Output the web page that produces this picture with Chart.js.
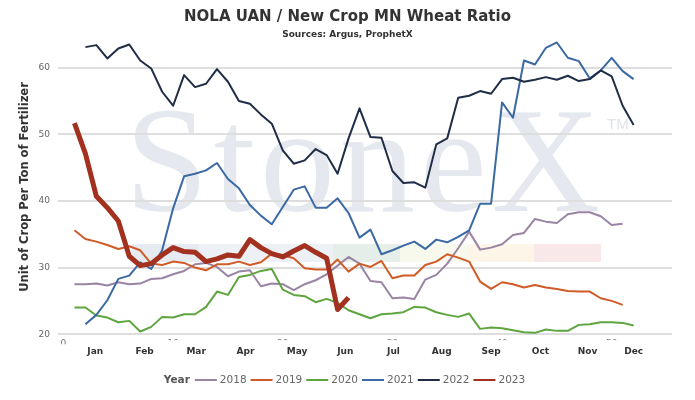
<!DOCTYPE html>
<html>
<head>
<meta charset="utf-8">
<title>NOLA UAN / New Crop MN Wheat Ratio</title>
<script src="https://cdn.jsdelivr.net/npm/chart.js@4.4.1/dist/chart.umd.min.js"></script>
<style>
  html, body { margin: 0; padding: 0; background: #fff; }
  #wrap { width: 695px; height: 400px; }
</style>
</head>
<body>
<div id="wrap"><canvas id="ratioChart"></canvas></div>
<script>
/*
   NOLA UAN / New Crop MN Wheat Ratio - weekly ratio by year
*/

const years = ['2018', '2019', '2020', '2021', '2022', '2023'];
const firstWeek = [1, 1, 1, 2, 2, 1];

const monthNames = ['Jan', 'Feb', 'Mar', 'Apr', 'May', 'Jun', 'Jul', 'Aug', 'Sep', 'Oct', 'Nov', 'Dec'];
const monthWeeks = [2.9, 7.4, 12.1, 16.6, 21.3, 25.7, 30.1, 34.5, 39.0, 43.5, 47.8, 52.0];
const weekTicks = [0, 10, 20, 30, 40, 50];
const ratioTicks = [20, 30, 40, 50, 60];

const ratio2018 = [27.5, 27.5, 27.6, 27.3, 27.8, 27.5, 27.6, 28.3, 28.4, 29.0, 29.5, 30.5, 30.7, 30.1,
    28.7, 29.4, 29.6, 27.2, 27.6, 27.5, 26.6, 27.5, 28.1, 29.0, 30.3, 31.6, 30.6, 28.0,
    27.8, 25.4, 25.5, 25.3, 28.2, 28.9, 30.6, 32.9, 35.4, 32.7, 33.0, 33.5, 34.9, 35.2,
    37.3, 36.9, 36.7, 38.0, 38.3, 38.3, 37.7, 36.4, 36.6];
const ratio2019 = [35.6, 34.3, 33.9, 33.4, 32.8, 33.2, 32.6, 30.6, 30.4, 30.9, 30.7, 30.0, 29.6, 30.5,
    30.5, 30.9, 30.4, 30.8, 32.1, 31.9, 31.4, 29.9, 29.7, 29.7, 31.2, 29.4, 30.6, 30.1,
    31.0, 28.4, 28.8, 28.8, 30.4, 30.9, 32.0, 31.5, 30.9, 27.9, 26.8, 27.8, 27.5, 27.0,
    27.4, 27.0, 26.8, 26.5, 26.4, 26.4, 25.4, 25.0, 24.4];
const ratio2020 = [24.0, 24.0, 22.8, 22.5, 21.8, 22.0, 20.4, 21.1, 22.6, 22.5, 23.0, 23.0, 24.1, 26.4,
    25.9, 28.6, 28.9, 29.5, 29.8, 26.7, 25.9, 25.7, 24.8, 25.3, 24.7, 23.6, 23.0, 22.4,
    23.0, 23.1, 23.3, 24.1, 24.0, 23.3, 22.9, 22.6, 23.1, 20.8, 21.0, 20.9, 20.6, 20.3,
    20.2, 20.7, 20.5, 20.5, 21.4, 21.5, 21.8, 21.8, 21.7, 21.3];
const ratio2021 = [21.5, 22.9, 25.1, 28.3, 28.8, 30.8, 29.8, 32.6, 38.9, 43.7, 44.1, 44.6, 45.7,
    43.3, 41.9, 39.4, 37.8, 36.5, 39.1, 41.7, 42.2, 39.0, 39.0, 40.4, 38.2, 34.5, 35.7,
    32.0, 32.6, 33.3, 33.9, 32.8, 34.2, 33.8, 34.6, 35.6, 39.6, 39.6, 54.8, 52.5, 61.1,
    60.5, 63.0, 63.8, 61.5, 61.0, 58.4, 59.6, 61.5, 59.5, 58.3];
const ratio2022 = [63.1, 63.4, 61.4, 62.9, 63.5, 61.1, 59.9, 56.4, 54.3, 58.9, 57.1, 57.6, 59.8,
    57.9, 55.0, 54.6, 53.0, 51.6, 47.6, 45.6, 46.1, 47.8, 46.9, 44.1, 49.4, 53.9, 49.6,
    49.5, 44.5, 42.7, 42.8, 42.0, 48.5, 49.4, 55.5, 55.8, 56.5, 56.1, 58.3, 58.5, 57.9,
    58.2, 58.6, 58.2, 58.8, 58.0, 58.3, 59.6, 58.7, 54.3, 51.4];
const ratio2023 = [51.7, 47.1, 40.7, 39.0, 37.0, 31.7, 30.3, 30.6, 31.9, 33.0, 32.4, 32.3, 30.9, 31.3,
    31.9, 31.7, 34.2, 33.0, 32.1, 31.6, 32.5, 33.3, 32.3, 31.4, 23.7, 25.5];

const seriesValues = [ratio2018, ratio2019, ratio2020, ratio2021, ratio2022, ratio2023];

const ChartStyle = {
    font: "'DejaVu Sans', sans-serif",
    colors: ['#9a84a4', '#d15b26', '#5fa53f', '#3b69a3', '#1f2d47', '#a2321f'],
    widths: [2, 2, 2, 2, 2, 5],
    grid: '#dedede',
    text: '#333',
    muted: '#666',
    band: ['#e6eaf1', '#edf1f6', '#edf1f6', '#e5eee8', '#f6f9ec', '#fdf5e7', '#f9e8ea']
};

// StoneX watermark behind the plot
const watermark = {
    id: 'watermark',
    beforeDraw(chart) {
        const ctx = chart.ctx;
        ctx.save();
        ctx.fillStyle = '#e5e9ef';
        ctx.font = "150px 'Liberation Serif'";
        ctx.letterSpacing = '5px';
        ctx.textBaseline = 'alphabetic';
        ctx.fillText('StoneX', 125, 211);
        ctx.letterSpacing = '0px';
        ctx.fillStyle = '#dfe3ea';
        ctx.font = "15px 'Liberation Sans'";
        ctx.fillText('TM', 607, 129);
        ChartStyle.band.forEach((c, i) => {
            ctx.fillStyle = c;
            ctx.fillRect(132 + i * 67, 244, 67, 18);
        });
        ctx.restore();
    },
    beforeDatasetsDraw(chart) {
        // week numbers sit mostly hidden under the month row
        const { ctx, chartArea } = chart;
        ctx.save();
        ctx.fillStyle = '#fff';
        ctx.fillRect(chartArea.left + 10, chartArea.bottom + 6, chartArea.right - chartArea.left, 10);
        ctx.restore();
    }
};

// "Year —— 2018 —— 2019 ..." legend on one line
const yearLegend = {
    id: 'yearLegend',
    afterDraw(chart) {
        const ctx = chart.ctx;
        const sets = chart.data.datasets;
        const y = 380;
        ctx.save();
        ctx.textBaseline = 'middle';
        ctx.font = "bold 10.5px " + ChartStyle.font;
        const headW = ctx.measureText('Year').width;
        ctx.font = "10.5px " + ChartStyle.font;
        const itemW = sets.map(ds => 25 + ctx.measureText(ds.label).width);
        const total = headW + 5 + itemW.reduce((a, b) => a + b, 0) + 4 * (itemW.length - 1);
        let x = chart.width / 2 - total / 2 - 3;

        ctx.font = "bold 10.5px " + ChartStyle.font;
        ctx.fillStyle = '#555';
        ctx.fillText('Year', x, y);
        x += headW + 5;

        ctx.font = "10.5px " + ChartStyle.font;
        sets.forEach((ds, i) => {
            ctx.fillStyle = ds.borderColor;
            ctx.fillRect(x, y - 1, 22, 2);
            ctx.fillStyle = ChartStyle.muted;
            ctx.fillText(ds.label, x + 25, y);
            x += itemW[i] + 4;
        });
        ctx.restore();
    }
};

Chart.defaults.font.family = ChartStyle.font;

function initRatioChart(ctx) {
    return new Chart(ctx, {
        type: 'line',
        data: {
            datasets: seriesValues.map((vals, i) => ({
                label: years[i],
                data: vals.map((v, k) => ({ x: firstWeek[i] + k, y: v })),
                borderColor: ChartStyle.colors[i],
                backgroundColor: ChartStyle.colors[i],
                borderWidth: ChartStyle.widths[i],
                borderJoinStyle: 'round',
                pointRadius: 0,
                tension: 0,
                order: years.length - 1 - i
            }))
        },
        options: {
            responsive: true,
            maintainAspectRatio: false,
            animation: false,
            layout: { padding: { left: 0, right: 0, top: 0, bottom: 41 } },
            plugins: {
                legend: { display: false },
                tooltip: { enabled: false },
                title: {
                    display: true,
                    text: 'NOLA UAN / New Crop MN Wheat Ratio',
                    color: ChartStyle.text,
                    font: { size: 15, weight: 'bold' },
                    padding: { top: 8, bottom: 0 }
                },
                subtitle: {
                    display: true,
                    text: 'Sources: Argus, ProphetX',
                    color: ChartStyle.text,
                    font: { size: 9, weight: 'bold' },
                    padding: { top: 3, bottom: 0 }
                }
            },
            scales: {
                x: {
                    type: 'linear',
                    min: -0.5,
                    max: 55.5,
                    afterBuildTicks: s => { s.ticks = weekTicks.map(v => ({ value: v })); },
                    afterFit: s => { s.height = 10; },
                    grid: { display: false, drawTicks: false },
                    border: { display: false },
                    ticks: { color: '#777', font: { size: 9 }, padding: 4, maxRotation: 0 }
                },
                month: {
                    type: 'linear',
                    position: 'bottom',
                    min: -0.5,
                    max: 55.5,
                    afterBuildTicks: s => { s.ticks = monthWeeks.map(v => ({ value: v })); },
                    grid: { display: false, drawTicks: false },
                    border: { display: false },
                    ticks: {
                        autoSkip: false,
                        maxRotation: 0,
                        z: 1,
                        padding: 2,
                        color: ChartStyle.text,
                        font: { size: 9, weight: 'bold' },
                        callback: (v, i) => monthNames[i]
                    }
                },
                y: {
                    min: 20,
                    max: 64.2,
                    afterBuildTicks: s => { s.ticks = ratioTicks.map(v => ({ value: v })); },
                    afterFit: s => { s.width = 58; },
                    grid: { color: ChartStyle.grid, lineWidth: 2, drawTicks: false },
                    border: { display: false },
                    ticks: { color: ChartStyle.muted, font: { size: 9 }, padding: 8 },
                    title: {
                        display: true,
                        text: 'Unit of Crop Per Ton of Fertilizer',
                        color: ChartStyle.text,
                        font: { size: 11.5, weight: 'bold' },
                        padding: { top: 18, bottom: 0 }
                    }
                },
                // empty right gutter so the titles stay centred on the full width
                gutter: {
                    position: 'right',
                    min: 20,
                    max: 64.2,
                    afterFit: s => { s.width = 23; },
                    grid: { display: false, drawTicks: false },
                    border: { display: false },
                    ticks: { display: false }
                }
            }
        },
        plugins: [watermark, yearLegend]
    });
}

initRatioChart(document.getElementById('ratioChart'));
</script>
</body>
</html>
